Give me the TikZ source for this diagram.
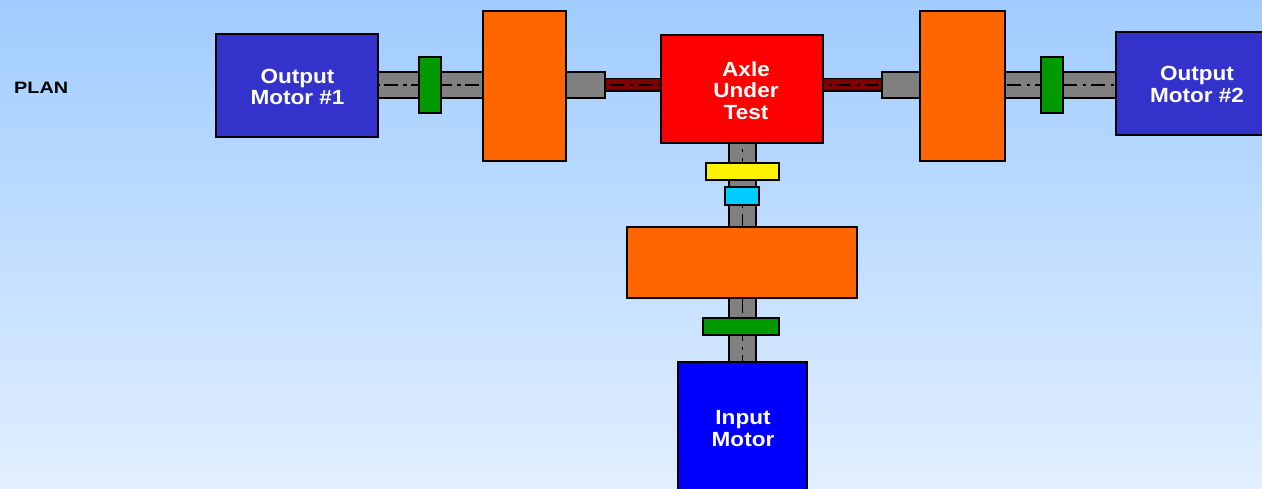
\documentclass[tikz,border=0pt]{standalone}
\usepackage{fontspec}
\setmainfont{Liberation Sans}
\newfontfamily\labelfont[FakeStretch=1.1]{Liberation Sans Bold}
\newfontfamily\planfont[FakeStretch=1.2]{Liberation Sans Bold}
\definecolor{skytop}{HTML}{A0CCFF}
\definecolor{skybot}{HTML}{E2EFFF}
\definecolor{motorblue}{HTML}{3333CC}
\definecolor{gearorange}{HTML}{FF6600}
\definecolor{coupgreen}{HTML}{009900}
\definecolor{shaftgrey}{HTML}{808080}
\definecolor{axlered}{HTML}{800000}
\definecolor{cyanbox}{HTML}{00CCFF}
\tikzset{
  partbox/.style={draw=black,line width=1.7pt,inner sep=0pt,outer sep=0pt,align=center,text=white,
    font=\labelfont\fontsize{20.5}{21.5}\selectfont},
  shaftbox/.style={partbox,fill=shaftgrey},
  centreline/.style={draw=black,line width=1.8pt,dash pattern=on 14pt off 5.5pt on 3pt off 5.5pt},
  centrelinev/.style={draw=black,line width=1.3pt,dash pattern=on 14pt off 5.5pt on 3pt off 5.5pt}
}
% \bx{name}{x0}{y0}{x1}{y1}{style}{text}
\newcommand{\bx}[7]{\node[partbox,#6,minimum width=#4pt-#2pt,minimum height=#5pt-#3pt] (#1) at ({(#2+#4)/2},{(#3+#5)/2}) {#7};}
\begin{document}
\begin{tikzpicture}[x=1pt,y=-1pt]
\useasboundingbox (0,0) rectangle (1262,489);
\fill[top color=skytop,bottom color=skybot] (0,0) rectangle (1262,489);
\node[font=\planfont\fontsize{16.5}{18}\selectfont,anchor=west,inner sep=0pt] (plan) at (14,87.5) {PLAN};
% shafts
\bx{shaftL}{378}{72}{483}{98}{shaftbox}{}
\bx{stubL}{566}{72}{605}{98}{shaftbox}{}
\bx{axleL}{605}{78.5}{661}{91}{fill=axlered}{}
\bx{axleR}{823}{78.5}{882}{91}{fill=axlered}{}
\bx{stubR}{882}{72}{920}{98}{shaftbox}{}
\bx{shaftR}{1005}{72}{1116}{98}{shaftbox}{}
\bx{shaftU}{729}{143}{756}{227}{shaftbox}{}
\bx{shaftD}{729}{298}{756}{362}{shaftbox}{}
% centre lines
\draw[centreline,dash pattern=on 14pt off 5pt on 4pt off 4pt,dash phase=21pt] (shaftL.west) -- (shaftL.east);
\draw[centreline,dash phase=23pt] (axleL.west) -- (axleL.east);
\draw[centreline,dash phase=14pt] (axleR.west) -- (axleR.east);
\draw[centreline,dash phase=26pt] (shaftR.west) -- (shaftR.east);
\draw[centrelinev,dash phase=13pt] (shaftU.north) -- (shaftU.south);
\draw[centrelinev,dash phase=27pt] (shaftD.north) -- (shaftD.south);
% main parts
\bx{motorL}{216}{34}{378}{137}{fill=motorblue}{}
\node[partbox,draw=none] (motorLlabel) at (297.5,87) {Output\\Motor \#1};
\bx{motorR}{1116}{32}{1270}{135}{fill=motorblue}{}
\node[partbox,draw=none] (motorRlabel) at (1197,84.5) {Output\\Motor \#2};
\bx{gearL}{483}{11}{566}{161}{fill=gearorange}{}
\bx{gearR}{920}{11}{1005}{161}{fill=gearorange}{}
\bx{gearC}{627}{227}{857}{298}{fill=gearorange}{}
\bx{axle}{661}{35}{823}{143}{fill=red}{}
\node[partbox,draw=none] (axlelabel) at (746,90.5) {Axle\\Under\\Test};
\bx{coupL}{419}{57}{441}{113}{fill=coupgreen}{}
\bx{coupR}{1041}{57}{1063}{113}{fill=coupgreen}{}
\bx{coupD}{703}{318}{779}{335}{fill=coupgreen}{}
\bx{yellowbox}{706}{163}{779}{180}{fill=yellow}{}
\bx{cyanpart}{725}{187}{759}{205}{fill=cyanbox}{}
\bx{input}{678}{362}{807}{500}{fill=blue}{}
\node[partbox,draw=none] (inputlabel) at (743,428.5) {Input\\Motor};
\end{tikzpicture}
\end{document}
